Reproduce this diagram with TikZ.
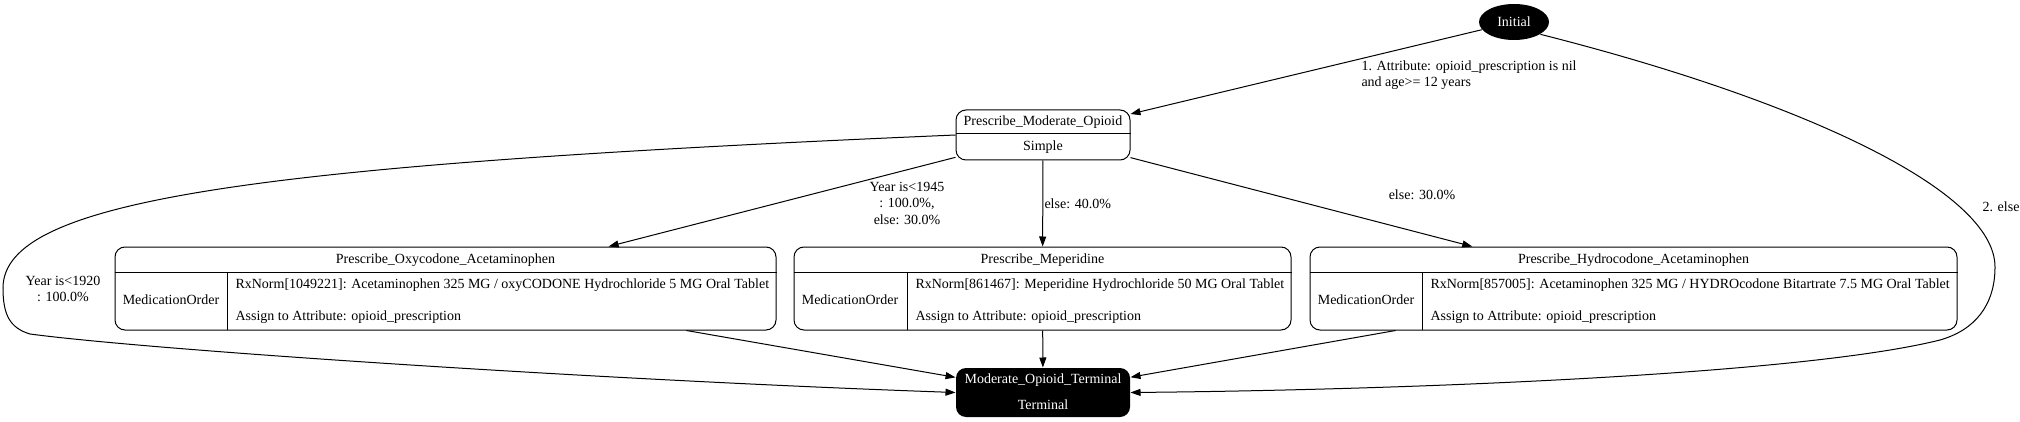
\documentclass[tikz,border=0pt]{standalone}
\usepackage{fontspec}
\setmainfont{Liberation Serif}
\usetikzlibrary{arrows.meta,shapes.geometric}

\begin{document}
\begin{tikzpicture}[x=1pt,y=-1pt,line width=1pt,
  record/.style={draw,rounded corners=10pt,inner sep=0pt},
  blackbox/.style={fill=black,rounded corners=10pt,inner sep=0pt},
  lbl/.style={inner sep=0pt,font=\fontsize{14pt}{16.5pt}\selectfont,align=center},
  flow/.style={-{Triangle[length=10pt,width=7pt]}}]
\useasboundingbox (0,0) rectangle (2020,422);

\node[ellipse,fill=black,text=white,inner sep=0pt,minimum width=70pt,minimum height=36pt,
  font=\fontsize{14pt}{16.5pt}\selectfont] (init) at (1514,22) {Initial};

\node[record,minimum width=174pt,minimum height=50pt] (moderate) at (1043,135) {};
\draw (moderate.west |- 0,134) -- (moderate.east |- 0,134);
\node[lbl] (modname) at (1043,122) {Prescribe\_Moderate\_Opioid};
\node[lbl] (modkind) at (1043,147) {Simple};

\node[record,minimum width=661pt,minimum height=83pt] (oxy) at (445.5,288.5) {};
\draw (oxy.west |- 0,272) -- (oxy.east |- 0,272);
\draw (227,272) -- (227,330);
\node[lbl] (oxyname) at (445.5,260) {Prescribe\_Oxycodone\_Acetaminophen};
\node[lbl] (oxytype) at (171,300) {MedicationOrder};
\node[lbl,anchor=west] (oxyrx) at (235,285) {RxNorm[1049221]: Acetaminophen 325 MG / oxyCODONE Hydrochloride 5 MG Oral Tablet};
\node[lbl,anchor=west] (oxyattr) at (235,317) {Assign to Attribute: opioid\_prescription};

\node[record,minimum width=497pt,minimum height=83pt] (mep) at (1042.5,288.5) {};
\draw (mep.west |- 0,272) -- (mep.east |- 0,272);
\draw (907,272) -- (907,330);
\node[lbl] (mepname) at (1042.5,260) {Prescribe\_Meperidine};
\node[lbl] (meptype) at (850,300) {MedicationOrder};
\node[lbl,anchor=west] (meprx) at (915,285) {RxNorm[861467]: Meperidine Hydrochloride 50 MG Oral Tablet};
\node[lbl,anchor=west] (mepattr) at (915,317) {Assign to Attribute: opioid\_prescription};

\node[record,minimum width=647pt,minimum height=83pt] (hydro) at (1633.5,288.5) {};
\draw (hydro.west |- 0,272) -- (hydro.east |- 0,272);
\draw (1422,272) -- (1422,330);
\node[lbl] (hydroname) at (1633.5,260) {Prescribe\_Hydrocodone\_Acetaminophen};
\node[lbl] (hydrotype) at (1366,300) {MedicationOrder};
\node[lbl,anchor=west] (hydrorx) at (1430,285) {RxNorm[857005]: Acetaminophen 325 MG / HYDROcodone Bitartrate 7.5 MG Oral Tablet};
\node[lbl,anchor=west] (hydroattr) at (1430,317) {Assign to Attribute: opioid\_prescription};

\node[blackbox,minimum width=174pt,minimum height=49pt] (term) at (1043,392.5) {};
\node[lbl,white] (termname) at (1043,380) {Moderate\_Opioid\_Terminal};
\node[lbl,white] (termkind) at (1043,405) {Terminal};

\draw[flow] (init) -- (moderate);
\draw[flow] (init.-25) .. controls (1800,100) and (1995,190) .. (1995,267)
  .. controls (1995,305) and (1975,330) .. (1940,340)
  .. controls (1800,375) and (1400,390) .. (term.east);
\draw[flow] (moderate) -- (oxy);
\draw[flow] (moderate) -- (mep);
\draw[flow] (moderate) -- (hydro);
\draw[flow] (moderate.west) .. controls (250,165) and (3,200) .. (3,288)
  .. controls (3,315) and (10,328) .. (30,334)
  .. controls (150,350) and (600,380) .. (term.west);
\draw[flow] (oxy) -- (term);
\draw[flow] (mep) -- (term);
\draw[flow] (hydro) -- (term);

\node[lbl,anchor=west,align=left] (attrcond) at (1361,75) {1. Attribute: opioid\_prescription is nil\\and age>= 12 years};
\node[lbl] (elsecond) at (2001,207) {2. else};
\node[lbl] (yearold) at (63,289) {Year is<1920\\: 100.0\%};
\node[lbl] (yearmid) at (907,203) {Year is<1945\\: 100.0\%,\\else: 30.0\%};
\node[lbl,anchor=west] (elsemep) at (1044,204) {else: 40.0\%};
\node[lbl] (elsehydro) at (1422,195) {else: 30.0\%};
\end{tikzpicture}
\end{document}
